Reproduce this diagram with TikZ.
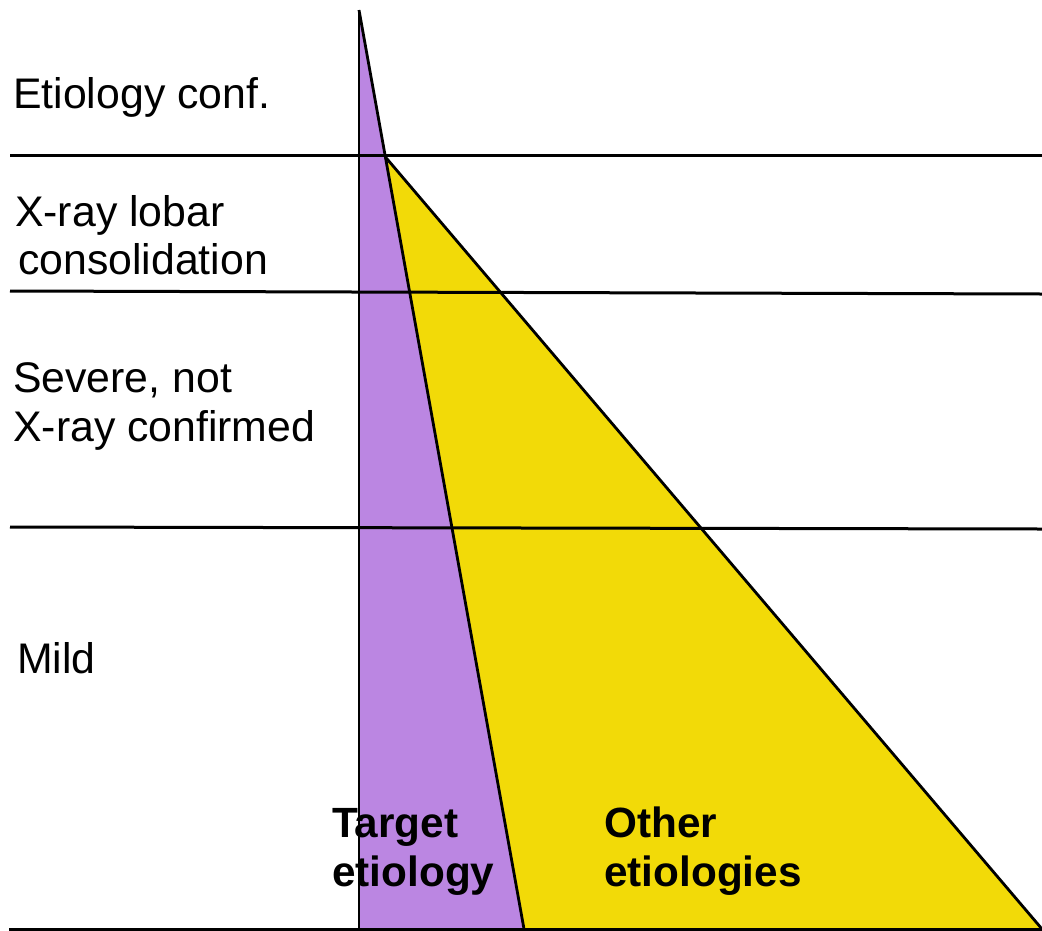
\documentclass[tikz,border=0pt]{standalone}
\usepackage{fontspec}
\setmainfont{Liberation Sans}
\definecolor{targetpurple}{RGB}{187,134,226}
\definecolor{otheryellow}{RGB}{242,218,8}
\begin{document}
\begin{tikzpicture}[x=1pt,y=-1pt,
  rule/.style={line width=3pt},
  edge/.style={line width=2.8pt},
  lbl/.style={anchor=base west,inner sep=0pt,font=\fontsize{42.8}{47}\selectfont},
  blbl/.style={anchor=base west,inner sep=0pt,font=\fontsize{42.3}{47}\selectfont\bfseries}]
\useasboundingbox (0,0) rectangle (1042,930);
% key points
\coordinate (apex) at (359,10);
\coordinate (bl) at (359,929);
\coordinate (pb) at (524,929);
\coordinate (ya) at (385.4,157);
\coordinate (yb) at (1042,929);
% fills
\fill[targetpurple] (apex) -- (bl) -- (pb) -- cycle;
\fill[otheryellow] (ya) -- (pb) -- (yb) -- cycle;
% outlines
\draw[edge] (apex) -- (bl);
\draw[edge] (apex) -- (pb);
\draw[edge] (ya) -- (yb);
% horizontal rules
\coordinate (h1a) at (10,155);  \coordinate (h1b) at (1042,155);
\coordinate (h2a) at (10,291);  \coordinate (h2b) at (1042,294);
\coordinate (h3a) at (10,527);  \coordinate (h3b) at (1042,529);
\coordinate (h4a) at (9,929);   \coordinate (h4b) at (1042,929);
\draw[rule] (h1a) -- (h1b);
\draw[rule] (h2a) -- (h2b);
\draw[rule] (h3a) -- (h3b);
\draw[rule] (h4a) -- (h4b);
% labels
\node[lbl] (etio) at (13,108) {Etiology conf.};
\node[lbl] (xray1) at (15,226) {X-ray lobar};
\node[lbl] (xray2) at (18,274) {consolidation};
\node[lbl] (sev1) at (13,392) {Severe, not};
\node[lbl] (sev2) at (13,441) {X-ray confirmed};
\node[lbl] (mild) at (17,673) {Mild};
\node[blbl] (targ1) at (332,837) {Target};
\node[blbl] (targ2) at (332,886) {etiology};
\node[blbl] (oth1) at (604,837) {Other};
\node[blbl] (oth2) at (604,886) {etiologies};
\end{tikzpicture}
\end{document}
